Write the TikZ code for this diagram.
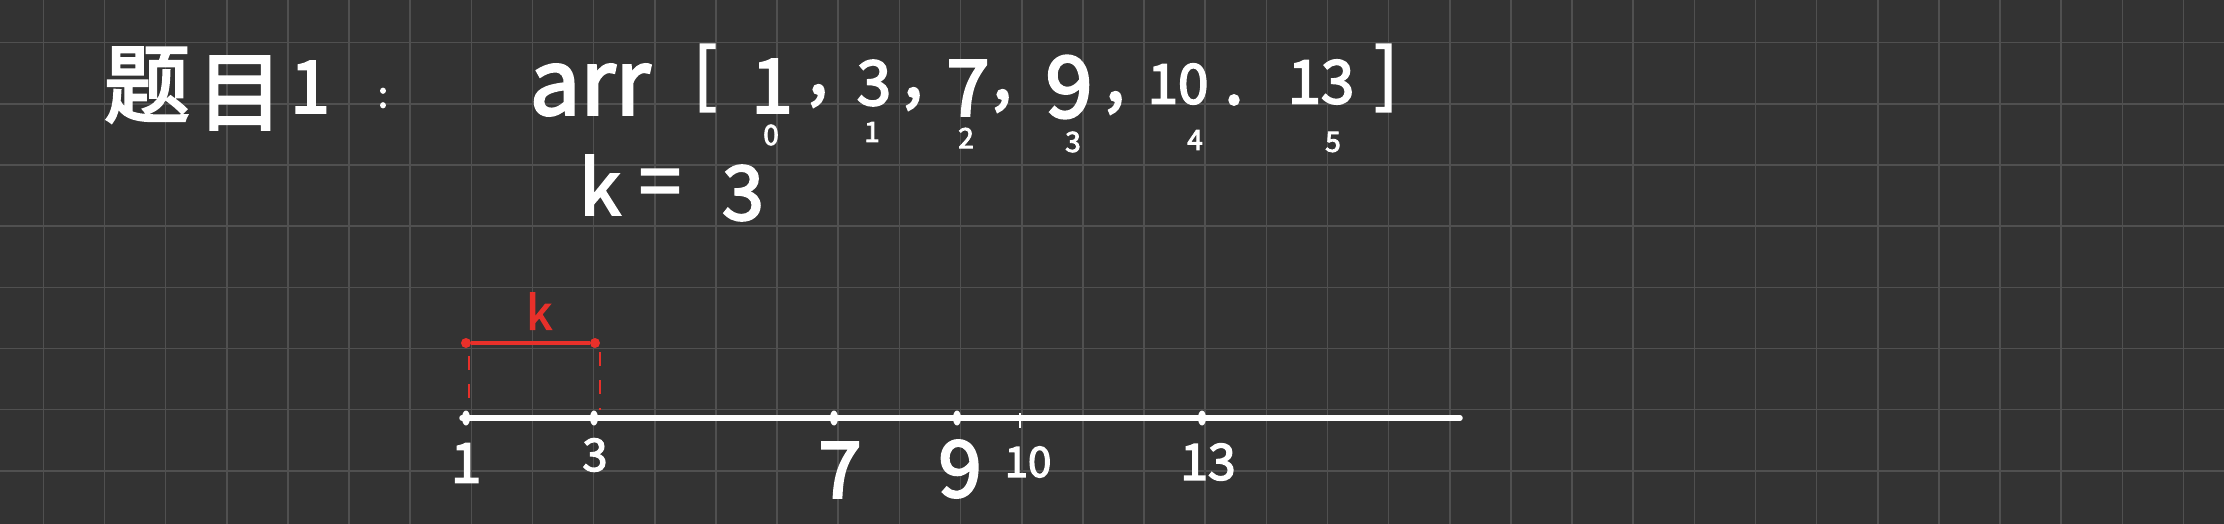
\documentclass[tikz,border=0pt]{standalone}
\usepackage{fontspec}
\usetikzlibrary{shapes.geometric}
\setmainfont{Noto Sans CJK SC}[FakeBold=3]
\definecolor{bgc}{HTML}{333333}
\definecolor{gridc}{HTML}{505050}
\definecolor{redink}{HTML}{E8302A}
\newcommand\hwsize[1]{\fontsize{#1}{#1}\selectfont}
\begin{document}
\begin{tikzpicture}[x=1pt,y=-1pt,
  gridline/.style={draw=gridc,line width=1.6pt},
  ink/.style={text=white,inner sep=0pt,anchor=center,font=\hwsize{#1}},
  rink/.style={text=redink,inner sep=0pt,anchor=center,font=\hwsize{#1}},
  axisline/.style={draw=white,line width=5.5pt,line cap=round},
  tickdot/.style={fill=white,ellipse,minimum width=8pt,minimum height=15pt,inner sep=0pt},
  rdot/.style={fill=redink,circle,minimum size=10pt,inner sep=0pt},
  rbar/.style={draw=redink,line width=4pt},
  rdash/.style={draw=redink,line width=2.5pt,dash pattern=on 14pt off 14pt}]
\fill[bgc] (0,0) rectangle (2224,524);
\useasboundingbox (0,0) rectangle (2224,524);
\foreach \i in {0,...,35} \draw[gridline] ({43.3+61.15*\i},0) -- ({43.3+61.15*\i},524);
\foreach \j in {0,...,7} \draw[gridline] (0,{42.7+61.15*\j}) -- (2224,{42.7+61.15*\j});
% title line
\node[ink=86] (ti) at (147,85) {题};
\node[ink=86] (mu) at (240,93) {目};
\node[ink=72] (one) at (310,87) {1};
\node[ink=36] (col) at (383,98) {:};
\node[ink=90] (arr) at (590,90) {arr};
\node[ink=70] (lb) at (705,78) {[};
\node[ink=75] (a0) at (772,86) {1};
\node[ink=70] (c0) at (818,96) {,};
\node[ink=62] (a1) at (874,83) {3};
\node[ink=70] (c1) at (913,99) {,};
\node[ink=78] (a2) at (968,88) {7};
\node[ink=70] (c2) at (1002,101) {,};
\node[ink=85] (a3) at (1069,87) {9};
\node[ink=70] (c3) at (1115,103) {,};
\node[ink=55] (a4) at (1178,84) {10};
\node[ink=70] (c4) at (1234,100) {.};
\node[ink=60] (a5) at (1321,82) {13};
\node[ink=70] (rb) at (1386,78) {]};
\node[ink=28] (i0) at (771,135) {0};
\node[ink=28] (i1) at (872,132) {1};
\node[ink=28] (i2) at (966,138) {2};
\node[ink=28] (i3) at (1073,142) {3};
\node[ink=28] (i4) at (1195,140) {4};
\node[ink=28] (i5) at (1333,142) {5};
\node[ink=75] (kk) at (600,185) {k};
\node[ink=75] (eq) at (660,189) {=};
\node[ink=75] (k3) at (743,193) {3};
% number line
\coordinate (ls) at (462,418);
\coordinate (le) at (1460,418);
\draw[axisline] (ls) -- (le);
\node[tickdot] (t1) at (466,418) {};
\node[tickdot] (t3) at (594,418) {};
\node[tickdot] (t7) at (834,418) {};
\node[tickdot] (t9) at (957,418) {};
\node[inner sep=0pt,minimum width=2pt,minimum height=15pt,fill=white] (t10) at (1020,420) {};
\node[tickdot] (t13) at (1202,418) {};
\node[ink=55] (l1) at (466,463) {1};
\node[ink=45] (l3) at (595,455) {3};
\node[ink=78] (l7) at (840,470) {7};
\node[ink=78] (l9) at (960,469) {9};
\node[ink=42] (l10) at (1028,462) {10};
\node[ink=50] (l13) at (1208,462) {13};
% red window
\node[rdot] (rl) at (466,343) {};
\node[rdot] (rr) at (595,343) {};
\draw[rbar] (rl) -- (rr);
\draw[rdash] (rl.south) ++(3,8) coordinate (dl) (dl) -- (dl |- t1.north);
\draw[rdash] (rr.south) ++(5,4) coordinate (dr) (dr) -- (dr |- t3.north);
\node[rink=46] (kr) at (539,311) {k};
\end{tikzpicture}
\end{document}
